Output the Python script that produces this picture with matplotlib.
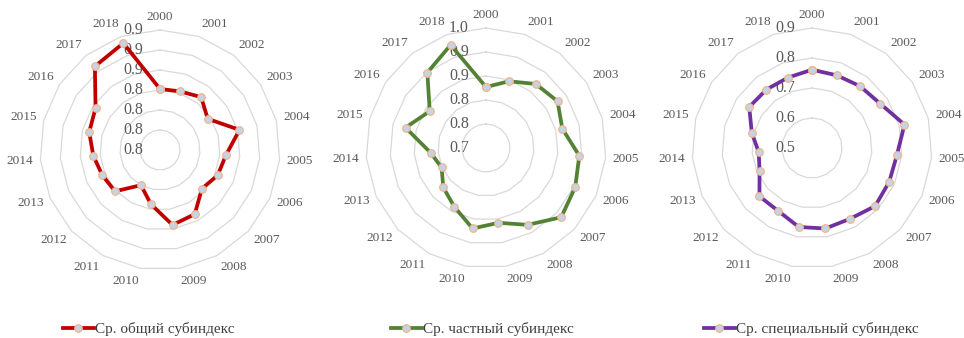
import matplotlib
matplotlib.use("Agg")
import matplotlib.pyplot as plt
import numpy as np

years = [str(y) for y in range(2000, 2019)]

# values
general = [0.841, 0.842, 0.847, 0.837, 0.862, 0.846, 0.843, 0.837, 0.853, 0.856,
           0.835, 0.820, 0.841, 0.843, 0.847, 0.853, 0.857, 0.886, 0.893]
private = [0.827, 0.847, 0.869, 0.878, 0.864, 0.895, 0.903, 0.913, 0.882, 0.858,
           0.870, 0.839, 0.821, 0.801, 0.816, 0.873, 0.840, 0.899, 0.927]
special = [0.761, 0.756, 0.761, 0.771, 0.818, 0.784, 0.781, 0.786, 0.768, 0.772,
           0.767, 0.738, 0.738, 0.691, 0.678, 0.707, 0.750, 0.747, 0.748]

general_ticks = [0.78, 0.80, 0.82, 0.84, 0.86, 0.88, 0.90]
general_tick_labels = ["0.8", "0.8", "0.8", "0.8", "0.9", "0.9", "0.9"]
private_ticks = [0.70, 0.75, 0.80, 0.85, 0.90, 0.95]
private_tick_labels = ["0.7", "0.8", "0.8", "0.9", "0.9", "1.0"]
special_ticks = [0.5, 0.6, 0.7, 0.8, 0.9]
special_tick_labels = ["0.5", "0.6", "0.7", "0.8", "0.9"]

names = ["Ср. общий субиндекс", "Ср. частный субиндекс", "Ср. специальный субиндекс"]
colors = ["#C00000", "#548235", "#7030A0"]

plt.rcParams["font.family"] = ["Liberation Serif", "DejaVu Serif"]

W, H = 964, 338
fig = plt.figure(figsize=(W / 100, H / 100), dpi=100)

R = 120
centers = [(160, 150), (486, 148), (812, 148)]
legend_x = [63, 391, 704]
legend_y = 329


def radar(center, values, ticks, tick_labels, name, color, lx):
	cx, cy = center
	ax = fig.add_axes([(cx - R) / W, (H - cy - R) / H, 2 * R / W, 2 * R / H],
	                  projection="polar")
	ax.set_theta_zero_location("N")
	ax.set_theta_direction(-1)
	ax.set_ylim(ticks[0], ticks[-1])
	ax.grid(False)
	ax.set_xticks([])
	ax.set_yticks([])
	ax.spines["polar"].set_visible(False)
	ax.patch.set_visible(False)

	theta = np.linspace(0, 2 * np.pi, len(years), endpoint=False)
	closed = np.append(theta, theta[0])

	# polygon rings instead of circles
	for t in ticks[1:]:
		ax.plot(closed, [t] * len(closed), color="#D9D9D9", lw=0.9, zorder=1,
		        clip_on=False)

	vals = list(values) + [values[0]]
	ax.plot(closed, vals, color=color, lw=2.7, marker="o", markersize=5.5,
	        markerfacecolor="#C3D4E6", markeredgecolor="#F4B183",
	        markeredgewidth=0.8, label=name, zorder=3, clip_on=False)

	# category labels, pushed outward like excel does
	for th, yr in zip(theta, years):
		s, c = np.sin(th), np.cos(th)
		if s > 0.05:
			ha = "left"
		elif s < -0.05:
			ha = "right"
		else:
			ha = "center"
		ax.annotate(yr, xy=(th, ticks[-1]), xytext=(7 * s, 7 * c + 6 * c),
		            textcoords="offset pixels", ha=ha, va="center",
		            fontsize=9.5, color="#595959")

	for t, lbl in zip(ticks, tick_labels):
		ax.annotate(lbl, xy=(0, t), xytext=(-17, 0), textcoords="offset pixels",
		            ha="right", va="center", fontsize=11.5, color="#595959",
		            zorder=2)

	ax.legend(loc="center left", bbox_to_anchor=(lx / W, (H - legend_y) / H),
	          bbox_transform=fig.transFigure, frameon=False, fontsize=11,
	          handlelength=2.0, handletextpad=0.1, borderpad=0, borderaxespad=0,
	          labelcolor="#404040")


radar(centers[0], general, general_ticks, general_tick_labels, names[0], colors[0], legend_x[0])
radar(centers[1], private, private_ticks, private_tick_labels, names[1], colors[1], legend_x[1])
radar(centers[2], special, special_ticks, special_tick_labels, names[2], colors[2], legend_x[2])

fig.savefig("out.png", dpi=100, facecolor="white")
